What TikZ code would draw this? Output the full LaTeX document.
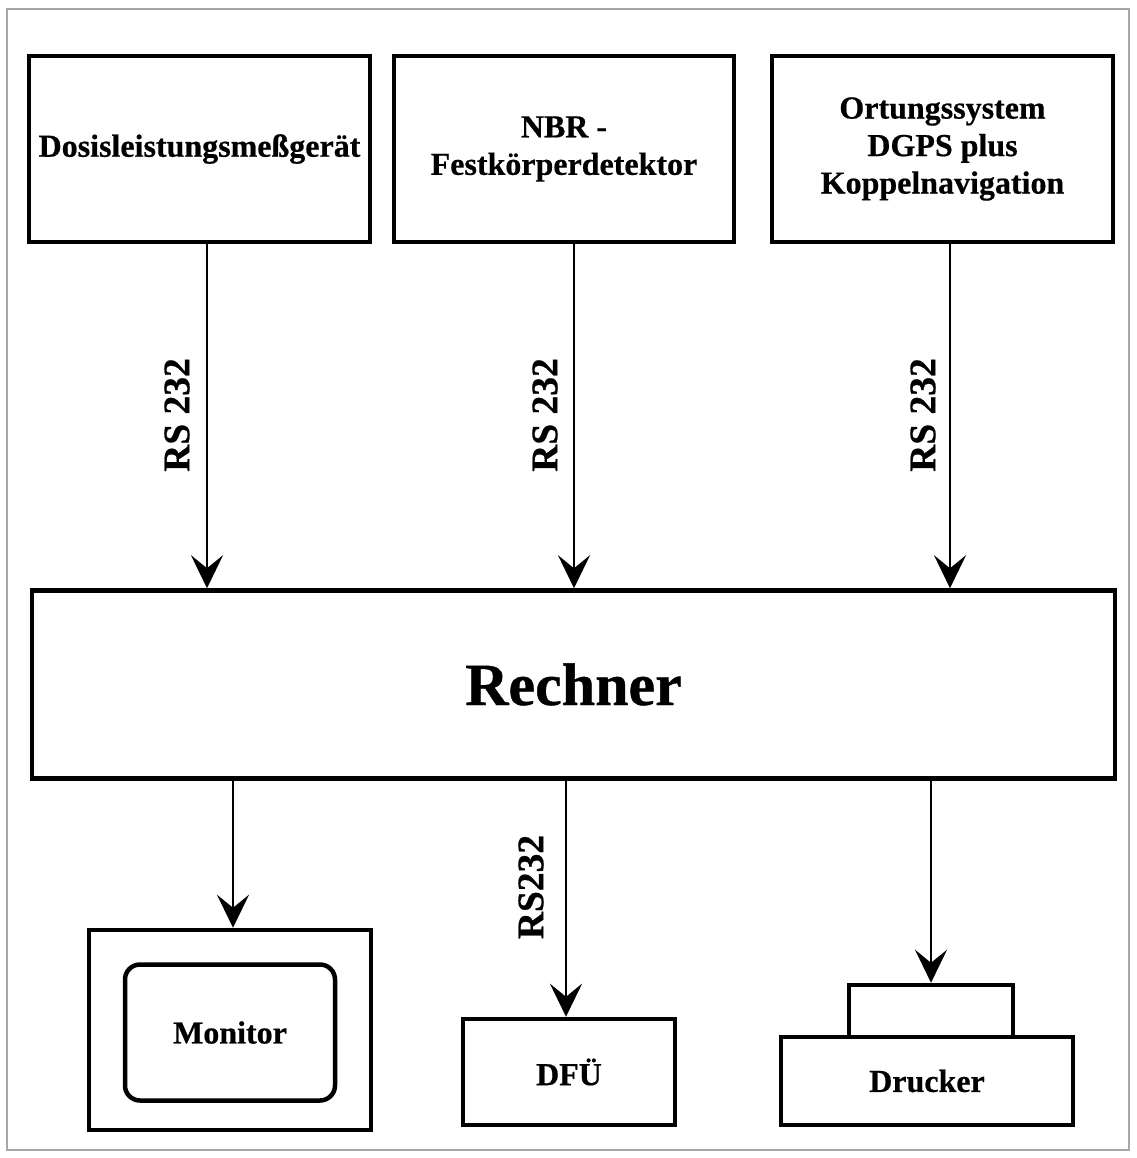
\documentclass[tikz,border=0pt]{standalone}
\usepackage{fontspec}
\setmainfont{Liberation Serif}[BoldFeatures={FakeBold=0.6}]
\usetikzlibrary{arrows.meta,calc}
\begin{document}
\begin{tikzpicture}[x=1pt,y=-1pt,
  box/.style={draw,line width=4.5pt,rectangle,inner sep=0pt,align=center,
    font=\bfseries\fontsize{32}{37.5}\selectfont},
  arr/.style={line width=2.8pt,-{Stealth[length=33pt,width=32pt,inset=13pt]}},
  lab/.style={rotate=90,inner sep=0pt,font=\bfseries\fontsize{37.5}{40}\selectfont}]
\useasboundingbox (0,0) rectangle (1136,1158);
\draw[gray!70,line width=1.8pt] (7,9) rectangle (1129,1150);

\node[box,minimum width=341pt,minimum height=186pt] (dose) at (199.5,149) {Dosisleistungsmeßgerät};
\node[box,minimum width=340pt,minimum height=186pt] (nbr) at (564,149) {NBR -\\Festkörperdetektor};
\node[box,minimum width=341pt,minimum height=186pt] (ort) at (942.5,149) {Ortungssystem\\DGPS plus\\Koppelnavigation};
\node[box,minimum width=1083pt,minimum height=188pt,font=\bfseries\fontsize{60}{64}\selectfont] (rech) at (573.5,684.5) {Rechner};

\node[box,minimum width=282pt,minimum height=200pt] (monout) at (230,1030) {};
\node[box,rounded corners=15pt,minimum width=210pt,minimum height=136pt] (mon) at (230,1032.5) {Monitor};
\node[box,minimum width=212pt,minimum height=106pt] (dfu) at (569,1072) {DFÜ};
\node[box,minimum width=164pt,minimum height=52pt] (drtop) at (931,1011) {};
\node[box,minimum width=292pt,minimum height=88pt] (dr) at (927,1081) {Drucker};

\coordinate (xa) at (207,0);
\coordinate (xb) at (574,0);
\coordinate (xc) at (950,0);
\coordinate (xd) at (233,0);
\coordinate (xe) at (566,0);
\coordinate (xf) at (931,0);

\draw[arr] (dose.south -| xa) -- (rech.north -| xa);
\draw[arr] (nbr.south -| xb) -- (rech.north -| xb);
\draw[arr] (ort.south -| xc) -- (rech.north -| xc);
\draw[arr] (rech.south -| xd) -- (monout.north -| xd);
\draw[arr] (rech.south -| xe) -- (dfu.north -| xe);
\draw[arr] (rech.south -| xf) -- (drtop.north -| xf);

\node[lab] (l1) at (177,415) {RS 232};
\node[lab] (l2) at (545,415) {RS 232};
\node[lab] (l3) at (923,415) {RS 232};
\node[lab] (l4) at (531,887) {RS232};
\end{tikzpicture}
\end{document}
